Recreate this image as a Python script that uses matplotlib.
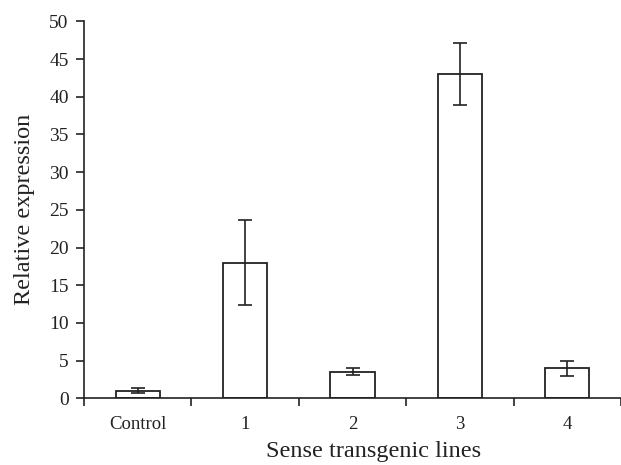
import matplotlib
matplotlib.use("Agg")
import matplotlib.pyplot as plt
import numpy as np

categories = ["Control", "1", "2", "3", "4"]
values = [1.0, 18.0, 3.5, 43.0, 4.0]
errors = [0.35, 5.6, 0.47, 4.1, 1.0]
yticks = [0, 5, 10, 15, 20, 25, 30, 35, 40, 45, 50]

plt.rcParams['font.family'] = ['Liberation Serif', 'DejaVu Serif']
ink = "#222222"

fig = plt.figure(figsize=(6.21, 4.65), dpi=100)
ax = fig.add_axes([84/621, 1 - 398.3/465, 1 - 84/621, (398.3 - 21.3)/465])

x = np.arange(len(categories))
ax.bar(x, values, width=0.41, color="white", edgecolor=ink, linewidth=1.3,
       yerr=errors, capsize=5,
       error_kw=dict(ecolor=ink, elinewidth=1.2, capthick=1.2))

ax.set_xlim(-0.5, 4.47)
ax.set_ylim(0, 50)
ax.set_yticks(yticks)
ax.set_xticks(x)
ax.set_xticklabels(categories)
ax.set_xticks(np.arange(-0.5, 4.6, 1.0), minor=True)
ax.tick_params(axis='x', which='major', length=0, pad=12.5, labelsize=13.5, colors=ink)
ax.tick_params(axis='x', which='minor', length=6, width=1.2, direction='out', color=ink)
ax.tick_params(axis='y', length=6, width=1.2, direction='out', pad=5, labelsize=14, colors=ink)

for s in ['top', 'right']:
    ax.spines[s].set_visible(False)
for s in ['left', 'bottom']:
    ax.spines[s].set_linewidth(1.2)
    ax.spines[s].set_color(ink)

ax.set_ylabel("Relative expression", fontsize=17.5, color=ink, labelpad=10)
ax.set_xlabel("Sense transgenic lines", fontsize=17.5, color=ink, labelpad=6)
ax.xaxis.label.set_x(0.54)

fig.savefig("out.png", dpi=100)
